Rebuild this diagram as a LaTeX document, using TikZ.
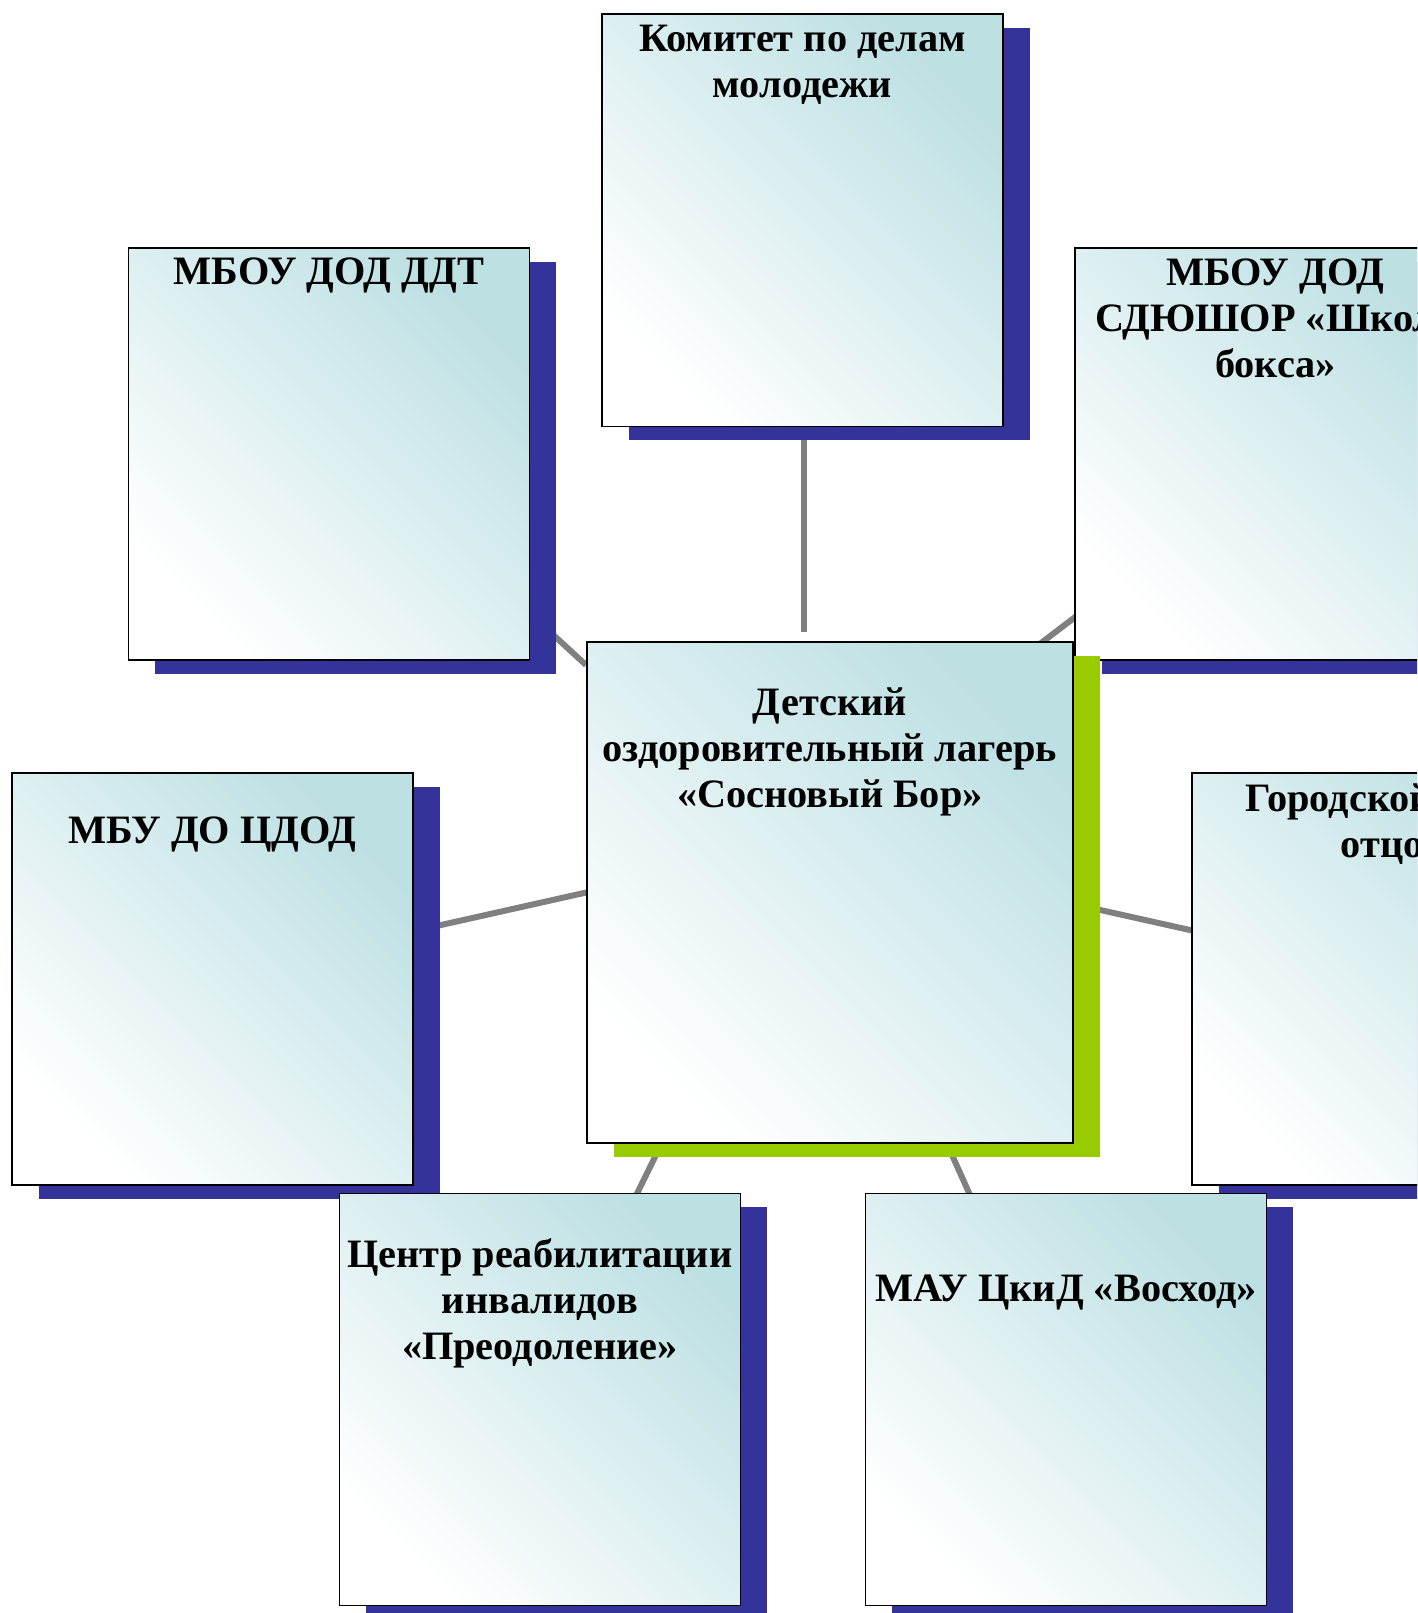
\documentclass[tikz,border=0pt]{standalone}
\usepackage{fontspec}
\setmainfont{Liberation Serif}
\usetikzlibrary{positioning,shadows,backgrounds,calc}
\definecolor{boxteal}{RGB}{189,224,227}
\definecolor{shblue}{RGB}{51,51,153}
\definecolor{shgreen}{RGB}{153,204,0}
\definecolor{linkgray}{RGB}{128,128,128}
\tikzset{
  panel/.style={draw=black, line width=1.8pt, top color=boxteal, middle color=boxteal!28!white,
    bottom color=white, shading angle=-45, anchor=north west, inner sep=0pt},
  org/.style={panel, minimum width=401pt, minimum height=412pt,
    drop shadow={shadow xshift=27pt, shadow yshift=-14pt, fill=shblue, opacity=1}},
  hub/.style={panel, minimum width=486pt, minimum height=501pt,
    drop shadow={shadow xshift=27pt, shadow yshift=-14pt, fill=shgreen, opacity=1}},
  caption/.style={anchor=north, inner sep=0pt, align=center, font=\fontsize{40.3}{46}\selectfont\bfseries},
  link/.style={draw=linkgray, line width=6pt}
}

\begin{document}
\begin{tikzpicture}[x=1pt,y=-1pt]
  \useasboundingbox (0,0) rectangle (1417,1613);
  \clip (0,0) rectangle (1417,1613);
  % boxes
  \node[org] (kom) at (601,13.5) {};
  \node[org] (ddt) at (127.5,247) {};
  \node[org] (sdu) at (1074,247) {};
  \node[org] (cdod) at (11,772) {};
  \node[org] (gor) at (1191,772) {};
  \node[org] (preod) at (338.5,1192.5) {};
  \node[org] (vosh) at (864.5,1192.5) {};
  \node[hub] (lager) at (586,641) {};
  % captions
  \node[caption, below=11pt of kom.north] (kom-t) {Комитет по делам\\молодежи};
  \node[caption, below=11pt of ddt.north] (ddt-t) {МБОУ ДОД ДДТ};
  \node[caption, below=12pt of sdu.north] (sdu-t) {МБОУ ДОД\\СДЮШОР «Школа\\бокса»};
  \node[caption, below=47pt of lager.north] (lager-t) {Детский\\оздоровительный лагерь\\«Сосновый Бор»};
  \node[caption, below=45pt of cdod.north] (cdod-t) {МБУ ДО ЦДОД};
  \node[caption, below=12pt of gor.north] (gor-t) {Городской совет\\отцов};
  \node[caption, below=46pt of preod.north] (preod-t) {Центр реабилитации\\инвалидов\\«Преодоление»};
  \node[caption, below=82pt of vosh.north] (vosh-t) {МАУ ЦкиД «Восход»};
  % connectors
  \begin{scope}[on background layer]
    \draw[link] ($(kom.south)+(1.5,0)$) -- ($(lager.north)+(-26,-9)$);
    \draw[link] ($(ddt.south east)+(0,-47)$) -- ($(lager.north west)+(0,24)$);
    \draw[link] ($(lager.north east)+(-42,9)$) -- ($(sdu.south west)+(16,-55)$);
    \draw[link] ($(cdod.east)+(8,-49.6)$) -- ($(lager.west)+(14,-3)$);
    \draw[link] ($(lager.east)+(-12,9)$) -- ($(gor.west)+(19,-44.4)$);
    \draw[link] ($(lager.south west)+(74,3)$) -- ($(preod.north)+(91,13.5)$);
    \draw[link] ($(lager.south)+(118,2)$) -- ($(vosh.north)+(-93,9)$);
  \end{scope}
\end{tikzpicture}
\end{document}
